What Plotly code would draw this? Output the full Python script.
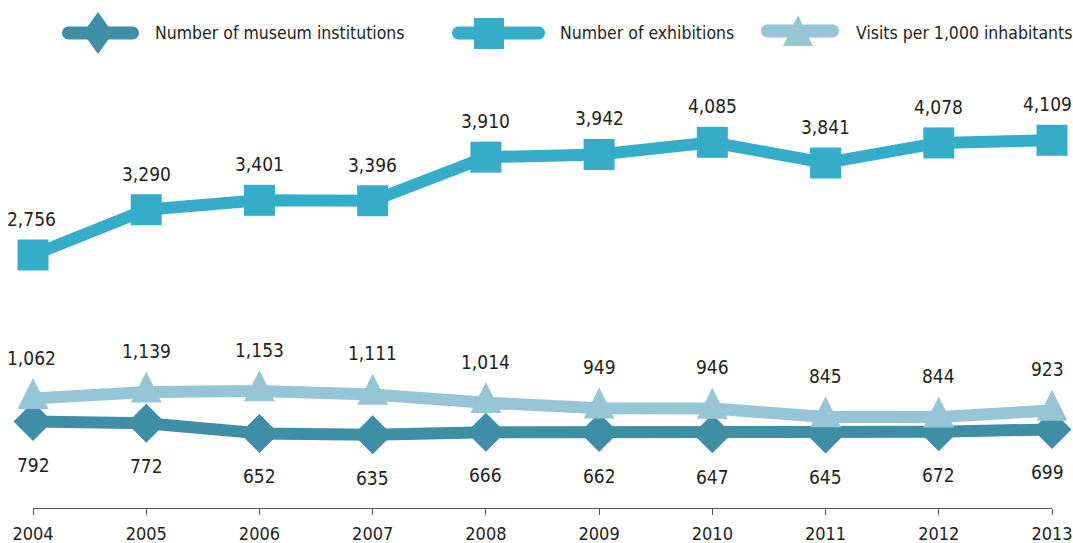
import plotly.graph_objects as go

# ---------------- data ----------------
years = [2004, 2005, 2006, 2007, 2008, 2009, 2010, 2011, 2012, 2013]
institutions = [792, 772, 652, 635, 666, 662, 647, 645, 672, 699]
exhibitions = [2756, 3290, 3401, 3396, 3910, 3942, 4085, 3841, 4078, 4109]
visits = [1062, 1139, 1153, 1111, 1014, 949, 946, 845, 844, 923]

series_names = ["Number of museum institutions", "Number of exhibitions", "Visits per 1,000 inhabitants"]

# ---------------- style ----------------
C_INST = "#3e8fa6"
C_EXH = "#35adc8"
C_VIS = "#96c5d5"
TXT = "#231f20"
FONT = "DejaVu Sans Condensed, Liberation Sans Narrow, Arial Narrow, sans-serif"

W, H = 1073, 543
ML, MR, MT, MB = 33, 21, 80, 35
PW, PH = W - ML - MR, H - MT - MB


def px2x(px):
    return (px - ML) / PW


def px2y(py):
    return (H - MB - py) / PH


def P(px, py):
    return f"{px2x(px):.5f},{px2y(py):.5f}"


def stadium(x0, x1, yc, r):
    k = 0.5523 * r
    return (
        f"M{P(x0 + r, yc - r)} L{P(x1 - r, yc - r)} "
        f"C{P(x1 - r + k, yc - r)} {P(x1, yc - k)} {P(x1, yc)} "
        f"C{P(x1, yc + k)} {P(x1 - r + k, yc + r)} {P(x1 - r, yc + r)} "
        f"L{P(x0 + r, yc + r)} "
        f"C{P(x0 + r - k, yc + r)} {P(x0, yc + k)} {P(x0, yc)} "
        f"C{P(x0, yc - k)} {P(x0 + r - k, yc - r)} {P(x0 + r, yc - r)} Z"
    )


fig = go.Figure()

fig.add_trace(go.Scatter(
    x=years, y=institutions, mode="lines+markers", name=series_names[0],
    line=dict(color=C_INST, width=12),
    marker=dict(symbol="diamond", size=30, color=C_INST, line=dict(width=0)),
    cliponaxis=False, showlegend=False, hoverinfo="x+y",
))
fig.add_trace(go.Scatter(
    x=years, y=exhibitions, mode="lines+markers", name=series_names[1],
    line=dict(color=C_EXH, width=12),
    marker=dict(symbol="square", size=31, color=C_EXH, line=dict(width=0)),
    cliponaxis=False, showlegend=False, hoverinfo="x+y",
))
fig.add_trace(go.Scatter(
    x=years, y=visits, mode="lines+markers", name=series_names[2],
    line=dict(color=C_VIS, width=12, backoff=0),
    marker=dict(symbol="arrow-down", size=31, angle=180, standoff=20.7,
                color=C_VIS, line=dict(width=0)),
    cliponaxis=False, showlegend=False, hoverinfo="x+y",
))

LABEL_SIZE = 19
annotations = []


def edge_shift(x):
    if x == years[-1]:
        return -5
    if x == years[0]:
        return -2
    return 0


for x, v in zip(years, exhibitions):
    annotations.append(dict(x=x, y=v, xref="x", yref="y", text=f"{v:,}", showarrow=False,
                            yshift=36, xshift=edge_shift(x),
                            font=dict(family=FONT, size=LABEL_SIZE, color=TXT)))
for x, v in zip(years, visits):
    annotations.append(dict(x=x, y=v, xref="x", yref="y", text=f"{v:,}", showarrow=False,
                            yshift=41, xshift=edge_shift(x),
                            font=dict(family=FONT, size=LABEL_SIZE, color=TXT)))
for x, v in zip(years, institutions):
    annotations.append(dict(x=x, y=v, xref="x", yref="y", text=f"{v:,}", showarrow=False,
                            yshift=-43, xshift=edge_shift(x) if x == years[-1] else 0,
                            font=dict(family=FONT, size=LABEL_SIZE, color=TXT)))

# ---------------- hand-built legend ----------------
shapes = []
# institutions
shapes.append(dict(type="path", xref="paper", yref="paper", path=stadium(62, 139, 33, 6.5),
                   fillcolor=C_INST, line=dict(width=0)))
shapes.append(dict(type="path", xref="paper", yref="paper",
                   path=f"M{P(98, 12)} L{P(113, 33)} L{P(98, 54)} L{P(83, 33)} Z",
                   fillcolor=C_INST, line=dict(width=0)))
# exhibitions
shapes.append(dict(type="path", xref="paper", yref="paper", path=stadium(452, 545, 33, 6.5),
                   fillcolor=C_EXH, line=dict(width=0)))
shapes.append(dict(type="rect", xref="paper", yref="paper",
                   x0=px2x(474), x1=px2x(504), y0=px2y(49), y1=px2y(18),
                   fillcolor=C_EXH, line=dict(width=0)))
# visits
shapes.append(dict(type="path", xref="paper", yref="paper", path=stadium(761, 839, 31, 6.5),
                   fillcolor=C_VIS, line=dict(width=0)))
shapes.append(dict(type="path", xref="paper", yref="paper",
                   path=f"M{P(798, 15)} L{P(813, 46)} L{P(783, 46)} Z",
                   fillcolor=C_VIS, line=dict(width=0)))

for name, xpx in zip(series_names, [153, 558, 854]):
    annotations.append(dict(x=px2x(xpx), y=px2y(33), xref="paper", yref="paper", text=name,
                            showarrow=False, xanchor="left", yanchor="middle",
                            font=dict(family=FONT, size=17.5, color=TXT)))

fig.update_layout(
    width=W, height=H,
    margin=dict(l=ML, r=MR, t=MT, b=MB, pad=0, autoexpand=False),
    paper_bgcolor="white", plot_bgcolor="white",
    showlegend=False,
    annotations=annotations,
    shapes=shapes,
    font=dict(family=FONT, size=20, color=TXT),
    xaxis=dict(
        range=[2004, 2013], tickvals=years, ticktext=[str(y) for y in years],
        automargin=False,
        showgrid=False, zeroline=False, showline=True, linecolor="#555555", linewidth=1,
        ticks="outside", ticklen=6, tickwidth=1, tickcolor="#555555",
        ticklabelstandoff=3,
        tickfont=dict(family=FONT, size=18, color=TXT),
    ),
    yaxis=dict(range=[-228, 4820], visible=False, showgrid=False, zeroline=False,
               automargin=False),
)

fig.write_html("out.html", config={"displayModeBar": False},
               post_script="document.body.style.margin='0';")
